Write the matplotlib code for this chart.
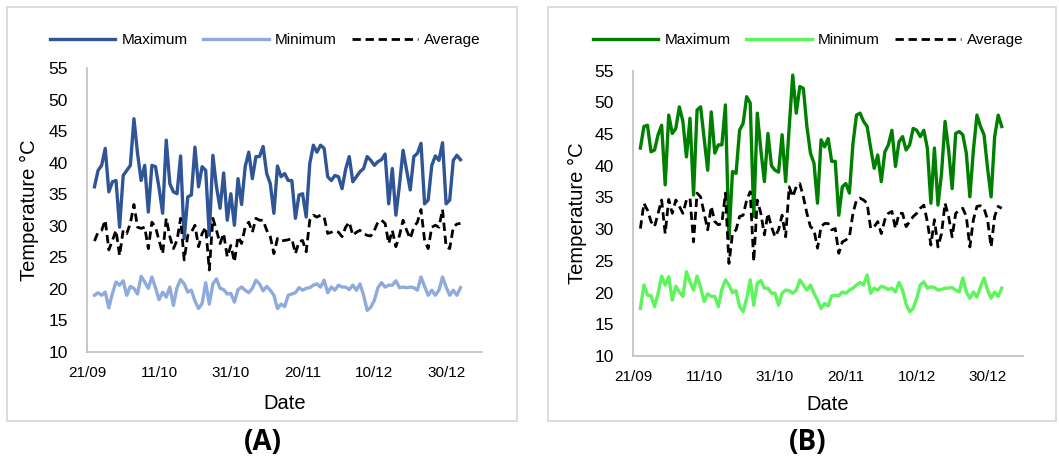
import numpy as np
import pandas as pd
import matplotlib
matplotlib.use("Agg")
import matplotlib.pyplot as plt
from matplotlib.patches import Rectangle

plt.rcParams['font.family'] = ['Liberation Sans', 'DejaVu Sans']

# ---------------- data ----------------
dates = pd.date_range("2020-09-23", periods=103, freq="D")
tick_labels = ["21/09", "11/10", "31/10", "20/11", "10/12", "30/12"]
tick_dates = pd.to_datetime(["2020-09-21", "2020-10-11", "2020-10-31",
                             "2020-11-20", "2020-12-10", "2020-12-30"])
series_names = ["Maximum", "Minimum", "Average"]
y_label = "Temperature °C"
x_label = "Date"
panel_labels = ["(A)", "(B)"]

max_a = [36.2, 38.8, 39.6, 42.3, 35.4, 37.0, 37.2, 29.8, 38.0, 38.8,
         39.6, 47.0, 41.5, 37.2, 39.6, 32.2, 39.6, 39.4, 36.0, 32.0,
         43.6, 36.7, 35.4, 35.1, 41.1, 28.0, 34.6, 34.9, 42.5, 36.2,
         39.4, 38.8, 28.5, 41.2, 36.2, 32.8, 38.4, 30.9, 35.1, 30.1,
         37.5, 33.4, 39.4, 41.7, 37.5, 41.0, 41.0, 42.6, 38.3, 36.7,
         32.0, 39.5, 37.8, 38.3, 37.2, 37.2, 31.2, 34.9, 35.1, 31.4,
         39.9, 42.8, 41.7, 42.8, 42.3, 37.8, 37.2, 38.0, 37.8, 35.9,
         39.0, 41.0, 37.0, 37.8, 38.6, 39.1, 41.0, 40.4, 39.6, 40.2,
         40.5, 41.4, 33.5, 39.1, 31.7, 36.5, 42.0, 38.8, 35.7, 41.0,
         41.5, 43.1, 33.5, 34.1, 39.6, 41.1, 40.4, 43.2, 33.5, 34.1,
         40.4, 41.2, 40.5]
min_a = [19.0, 19.4, 19.0, 19.5, 17.0, 19.3, 21.1, 20.6, 21.3, 19.0,
         20.4, 20.1, 19.2, 22.0, 21.1, 20.1, 21.9, 20.2, 18.3, 19.5,
         18.7, 20.3, 17.4, 20.2, 21.5, 20.8, 19.5, 19.8, 18.1, 16.9,
         17.7, 21.0, 17.6, 20.8, 21.6, 20.1, 19.9, 19.2, 19.3, 17.9,
         19.9, 20.3, 19.8, 19.4, 20.1, 21.4, 20.8, 19.7, 20.4, 19.8,
         19.0, 16.9, 17.6, 17.2, 19.0, 19.2, 19.4, 20.2, 19.8, 20.1,
         20.2, 20.6, 20.8, 20.3, 21.4, 19.4, 20.3, 19.8, 20.6, 20.3,
         20.3, 19.9, 20.6, 19.8, 20.8, 19.0, 16.6, 17.1, 18.2, 20.2,
         21.0, 20.3, 20.6, 20.6, 21.3, 20.2, 20.3, 20.2, 20.3, 20.2,
         19.8, 21.9, 20.4, 19.0, 19.8, 19.0, 19.8, 21.9, 20.3, 19.0,
         19.8, 19.0, 20.2]
avg_a = [27.6, 29.0, 29.3, 30.9, 26.2, 27.7, 29.3, 25.3, 29.3, 28.8,
         30.4, 33.4, 29.8, 29.6, 29.8, 26.4, 30.6, 29.8, 27.7, 25.6,
         31.2, 28.3, 26.4, 27.7, 31.2, 24.6, 28.5, 29.0, 30.1, 26.7,
         28.8, 29.8, 23.0, 31.2, 29.3, 27.2, 28.8, 25.1, 26.9, 24.3,
         28.3, 27.2, 29.8, 30.6, 29.0, 31.2, 30.9, 30.9, 29.3, 28.3,
         25.6, 28.0, 27.6, 27.7, 27.8, 28.0, 25.6, 27.5, 27.7, 25.9,
         30.9, 31.7, 31.4, 31.7, 31.4, 28.8, 29.0, 29.2, 29.0, 28.3,
         29.8, 30.6, 28.5, 29.0, 29.3, 28.8, 28.5, 28.4, 29.3, 30.6,
         30.9, 30.4, 27.2, 29.3, 26.7, 28.5, 30.9, 29.3, 28.0, 29.8,
         30.6, 32.6, 27.7, 26.4, 29.8, 30.1, 29.8, 32.6, 26.7, 26.4,
         29.8, 30.3, 30.4]

max_b = [42.8, 46.2, 46.4, 42.2, 42.5, 44.9, 46.4, 37.0, 48.0, 45.1,
         45.9, 49.3, 47.0, 41.4, 47.5, 35.4, 48.8, 49.3, 44.3, 39.3,
         48.5, 42.0, 43.3, 43.3, 49.6, 28.5, 39.1, 38.8, 45.6, 46.7,
         50.9, 49.9, 32.0, 48.3, 42.5, 37.5, 45.1, 40.0, 39.3, 39.0,
         44.9, 37.5, 46.0, 54.3, 48.3, 52.5, 52.2, 46.2, 42.0, 40.4,
         34.1, 44.1, 43.0, 44.3, 40.7, 40.7, 32.2, 36.7, 37.2, 35.7,
         43.5, 48.0, 48.3, 47.0, 46.2, 42.8, 39.6, 41.7, 37.5, 42.2,
         43.3, 45.6, 39.9, 43.8, 44.6, 42.5, 43.3, 45.9, 45.6, 44.6,
         45.6, 42.8, 34.1, 42.8, 33.8, 38.8, 47.0, 42.5, 36.4, 45.1,
         45.4, 44.9, 42.0, 35.1, 42.5, 48.0, 46.2, 44.9, 39.6, 35.1,
         44.6, 48.0, 46.2]
min_b = [17.5, 21.2, 19.6, 19.5, 17.8, 19.9, 22.6, 21.2, 22.5, 18.8,
         21.0, 20.1, 19.4, 23.3, 21.7, 20.4, 22.6, 20.8, 18.6, 19.8,
         19.4, 19.4, 17.8, 20.5, 22.0, 21.2, 20.0, 20.3, 17.8, 17.0,
         19.1, 22.0, 18.0, 21.5, 21.9, 20.7, 20.7, 19.9, 19.9, 18.0,
         19.9, 20.4, 20.3, 19.9, 20.4, 22.0, 21.2, 20.4, 21.2, 19.9,
         18.8, 17.5, 18.3, 17.9, 19.5, 19.6, 19.5, 20.1, 19.9, 20.4,
         20.7, 21.2, 21.6, 21.2, 22.8, 19.9, 20.7, 20.4, 21.0, 20.8,
         20.5, 20.7, 20.1, 21.6, 20.4, 18.2, 17.0, 17.5, 19.1, 21.2,
         21.7, 20.7, 20.9, 20.8, 20.4, 20.5, 20.7, 20.7, 20.8, 20.4,
         20.1, 22.3, 20.1, 19.1, 20.1, 19.3, 20.9, 22.3, 20.4, 19.1,
         20.1, 19.4, 20.7]
avg_b = [30.1, 34.1, 33.0, 31.2, 30.4, 32.5, 34.6, 29.3, 34.7, 32.5,
         34.6, 33.6, 32.5, 34.6, 34.9, 28.0, 35.7, 35.1, 32.5, 29.9,
         33.6, 31.2, 30.7, 30.9, 35.7, 24.6, 29.3, 29.9, 32.0, 32.2,
         34.6, 35.9, 24.9, 34.6, 32.5, 29.1, 32.5, 30.4, 28.8, 29.9,
         32.2, 28.8, 36.7, 35.1, 36.7, 37.2, 35.1, 32.5, 30.4, 29.9,
         27.0, 30.4, 30.9, 30.9, 29.9, 30.1, 26.2, 28.0, 28.3, 28.8,
         32.5, 34.6, 34.9, 34.6, 34.1, 30.1, 30.4, 31.2, 29.3, 31.5,
         32.5, 32.8, 30.1, 32.5, 32.5, 30.4, 31.2, 32.0, 32.5, 33.3,
         33.8, 31.2, 27.5, 31.5, 27.2, 29.3, 34.1, 32.0, 28.8, 32.5,
         33.0, 33.3, 32.0, 27.2, 31.5, 33.6, 33.7, 33.3, 31.5, 27.2,
         32.0, 33.6, 33.3]

colors_a = ["#2F5597", "#8FAADC", "black"]
colors_b = ["#008000", "#5CF55C", "black"]

# ---------------- figure ----------------
W, H = 1059, 459
fig = plt.figure(figsize=(W / 100, H / 100), dpi=100)

def fx(px):
    return px / W

def fy(py):
    return 1 - py / H

# panel borders
for (x0, x1) in [(7, 517), (548, 1056)]:
    fig.add_artist(Rectangle((fx(x0), fy(421)), fx(x1 - x0), (421 - 7) / H,
                             transform=fig.transFigure, fill=False,
                             edgecolor="#d9d9d9", linewidth=1.3))

panels = [
    dict(rect=[fx(87.3), fy(352), fx(482 - 87.3), (352 - 68.3) / H],
         data=[max_a, min_a, avg_a], colors=colors_a,
         legend_y=fy(40), legend_x=fx(265), ylab_x=fx(39), label_x=fx(263),
         xlabpad=10),
    dict(rect=[fx(633.3), fy(356), fx(1023 - 633.3), (356 - 70.7) / H],
         data=[max_b, min_b, avg_b], colors=colors_b,
         legend_y=fy(40), legend_x=fx(808), ylab_x=fx(587), label_x=fx(808),
         xlabpad=8),
]

for p, plab in zip(panels, panel_labels):
    ax = fig.add_axes(p["rect"])
    handles = []
    for name, vals, col in zip(series_names, p["data"], p["colors"]):
        if name == "Average":
            h, = ax.plot(dates, vals, color=col, lw=2.0, ls=(0, (3.0, 1.7)),
                         label=name, zorder=3)
        else:
            h, = ax.plot(dates, vals, color=col, lw=2.4, label=name,
                         solid_joinstyle="round", zorder=2)
        handles.append(h)
    ax.set_ylim(10, 55)
    ax.set_yticks(range(10, 56, 5))
    ax.set_xlim(tick_dates[0], tick_dates[0] + pd.Timedelta(days=110))
    ax.set_xticks(tick_dates)
    ax.set_xticklabels(tick_labels)
    for s in ["top", "right"]:
        ax.spines[s].set_visible(False)
    for s in ["left", "bottom"]:
        ax.spines[s].set_color("#bfbfbf")
        ax.spines[s].set_linewidth(1.2)
    ax.tick_params(axis="both", length=0, colors="black")
    ax.tick_params(axis="y", labelsize=12.5, pad=14)
    ax.tick_params(axis="x", labelsize=11, pad=10)
    ax.set_facecolor("none")
    ax.set_xlabel(x_label, fontsize=14.5, labelpad=p["xlabpad"])
    ax.set_ylabel(y_label, fontsize=14.5)
    ax.yaxis.set_label_coords(
        (p["ylab_x"] - p["rect"][0]) / p["rect"][2], 0.5)
    fig.legend(handles=handles, loc="center",
               bbox_to_anchor=(p["legend_x"], p["legend_y"]),
               ncol=3, frameon=False, fontsize=11,
               handlelength=4.3, handletextpad=0.4, columnspacing=1.0,
               borderpad=0)
    fig.text(p["label_x"], fy(443), plab, ha="center", va="center",
             fontsize=20, fontweight="bold", family=["Open Sans", "DejaVu Sans"])

fig.savefig("out.png", dpi=100)
